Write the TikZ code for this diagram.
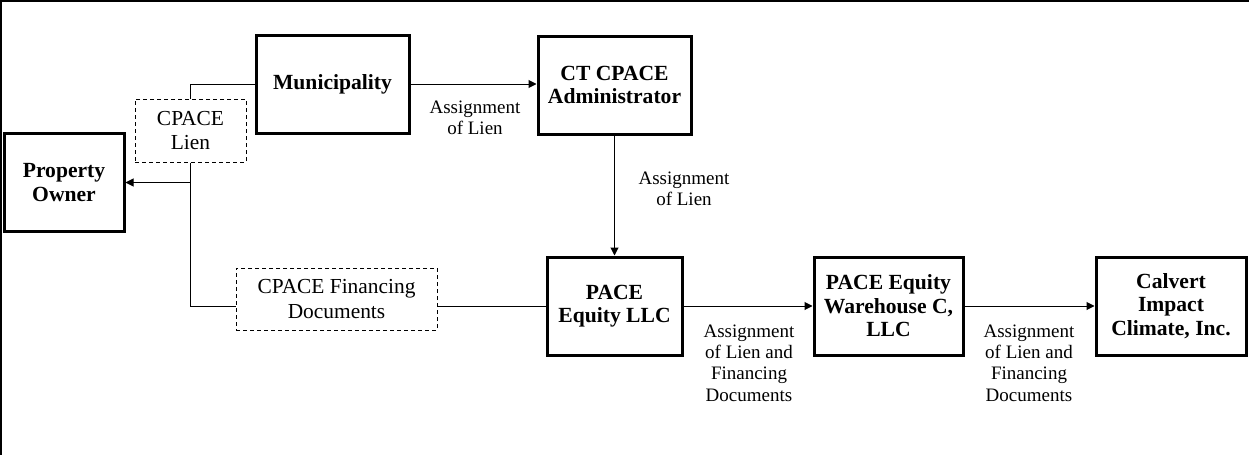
\documentclass[tikz,border=0pt]{standalone}
\usepackage{fontspec}
\setmainfont{Liberation Serif}
\usetikzlibrary{arrows.meta}
\begin{document}
\begin{tikzpicture}[x=0.5pt,y=-0.5pt,
  entity/.style={draw,line width=1.5pt,align=center,inner sep=0pt,
    font=\fontsize{10.8pt}{11.8pt}\selectfont\bfseries,minimum height=49pt},
  docbox/.style={draw,dashed,dash pattern=on 2pt off 1.5pt,line width=0.5pt,align=center,inner sep=0pt,
    font=\fontsize{10.7pt}{12.4pt}\selectfont},
  lbl/.style={align=center,inner sep=0pt,font=\fontsize{9.5pt}{10.6pt}\selectfont},
  conn/.style={line width=0.5pt},
  arr/.style={conn,-{Triangle[length=4pt,width=4pt]}}]
\useasboundingbox (0,0) rectangle (1249,455);
\draw[line width=1pt] (0,0.5) -- (1249,0.5);
\draw[line width=1pt] (1,0) -- (1,455);

\node[entity,minimum width=60pt] (owner) at (64,182.5) {Property\\Owner};
\node[entity,minimum width=76.5pt] (muni) at (332.5,84) {Municipality};
\node[entity,minimum width=76.5pt] (ct) at (614.5,85) {CT CPACE\\Administrator};
\node[entity,minimum width=67.5pt] (pel) at (614.5,306) {PACE\\Equity LLC};
\node[entity,minimum width=74.5pt] (wh) at (888.5,306) {PACE Equity\\Warehouse C,\\LLC};
\node[entity,minimum width=75pt] (cal) at (1171,306) {Calvert\\Impact\\Climate, Inc.};

\node[docbox,minimum width=55.5pt,minimum height=31.5pt] (lien) at (190.5,130.5) {CPACE\\Lien};
\node[docbox,minimum width=100.5pt,minimum height=31pt] (fin) at (336.5,299) {CPACE Financing\\Documents};

\draw[conn] (muni.west) -| (lien.north);
\draw[conn] (lien.south) |- (fin.west |- pel.west);
\draw[arr] (lien.south |- owner.east) -- (owner.east);
\draw[conn] (fin.east |- pel.west) -- (pel.west);
\draw[arr] (muni.east) -- (ct.west |- muni.east);
\draw[arr] (ct.south) -- (pel.north);
\draw[arr] (pel.east) -- (wh.west);
\draw[arr] (wh.east) -- (cal.west);

\node[lbl] (l1) at (475,118) {Assignment\\of Lien};
\node[lbl] (l2) at (684,189) {Assignment\\of Lien};
\node[lbl] (l3) at (749,363) {Assignment\\of Lien and\\Financing\\Documents};
\node[lbl] (l4) at (1029,363) {Assignment\\of Lien and\\Financing\\Documents};
\end{tikzpicture}
\end{document}
